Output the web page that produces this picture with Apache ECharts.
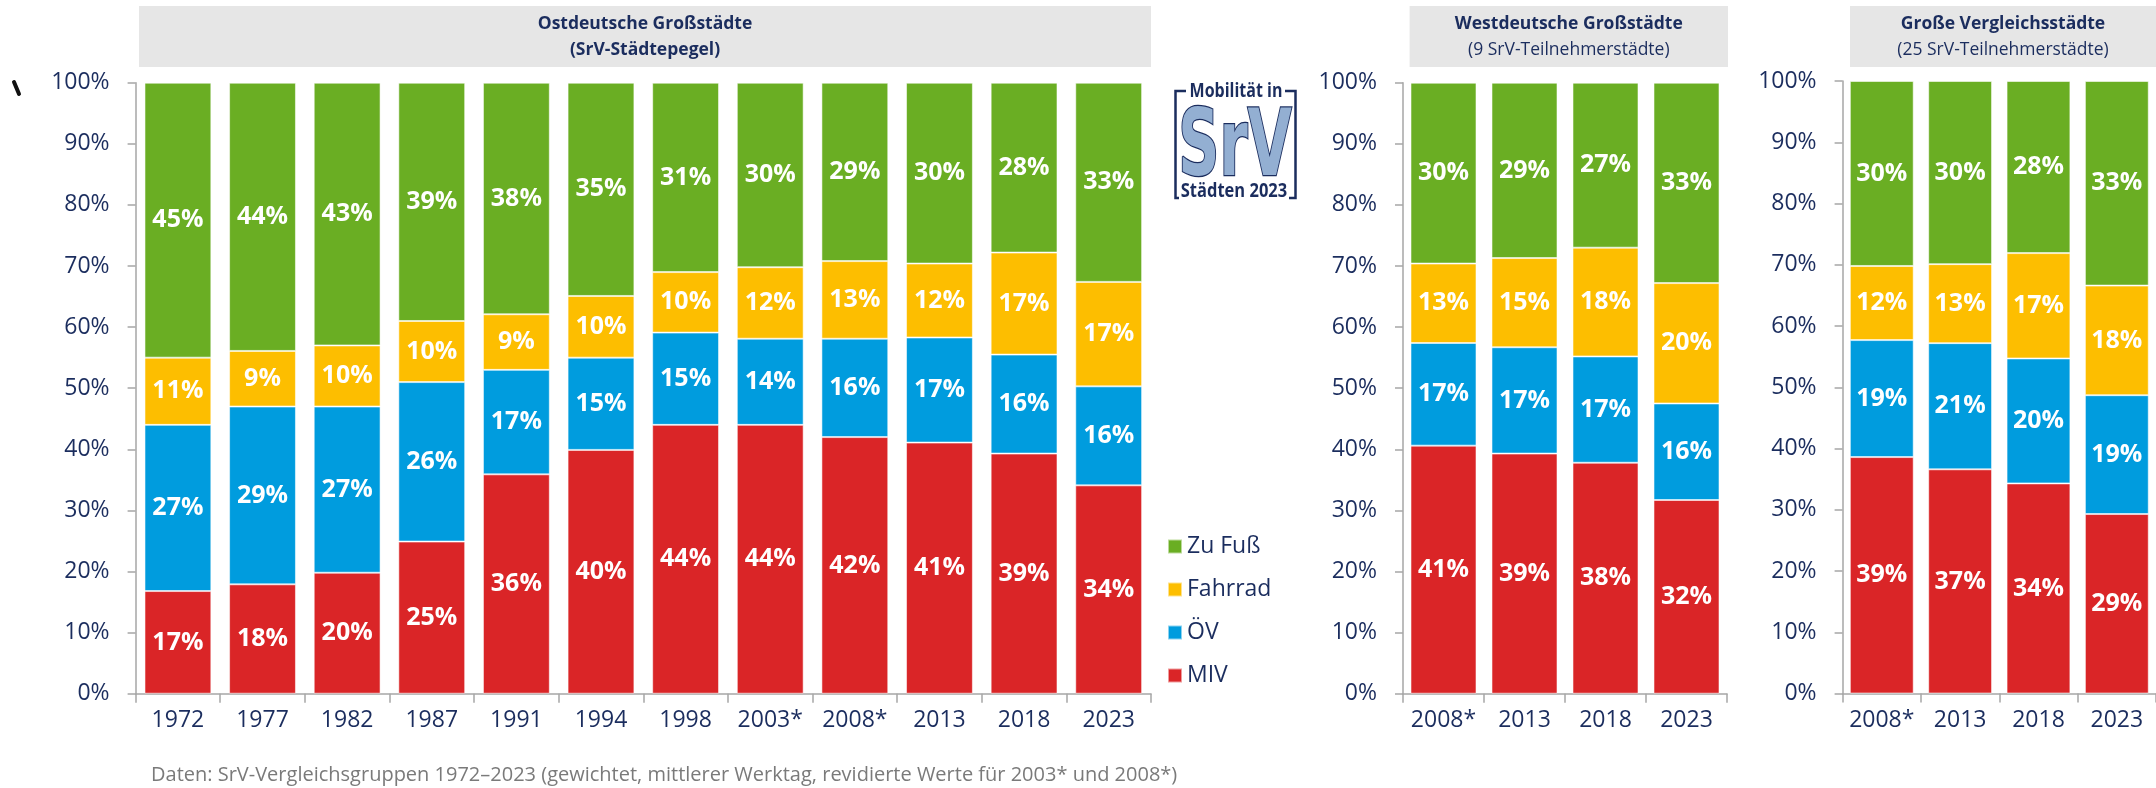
<!DOCTYPE html>
<html>
<head>
<meta charset="utf-8">
<script src="https://cdn.jsdelivr.net/npm/echarts@6/dist/echarts.min.js"></script>
<style>
  html, body { margin: 0; padding: 0; background: #fff; }
  #chart { width: 2156px; height: 788px; }
</style>
</head>
<body>
<div id="chart"></div>
<script>
// Ostdeutsche Großstädte (SrV-Städtepegel)
const ostJahre = ["1972", "1977", "1982", "1987", "1991", "1994", "1998", "2003*", "2008*", "2013", "2018", "2023"];
const ostMIV = [16.8, 17.9, 19.8, 24.9, 35.9, 39.9, 44.0, 44.0, 42.0, 41.1, 39.3, 34.1];
const ostOEV = [27.2, 29.1, 27.2, 26.1, 17.1, 15.1, 15.1, 14.1, 16.1, 17.2, 16.2, 16.2];
const ostRad = [11.0, 9.1, 10.0, 10.0, 9.1, 10.1, 9.9, 11.7, 12.7, 12.1, 16.7, 17.1];
const ostFuss = [45.0, 43.9, 43.0, 39.0, 37.9, 34.9, 31.0, 30.2, 29.2, 29.6, 27.8, 32.6];

// Westdeutsche Großstädte (9 SrV-Teilnehmerstädte)
const westJahre = ["2008*", "2013", "2018", "2023"];
const westMIV = [40.6, 39.3, 37.8, 31.7];
const westOEV = [16.8, 17.4, 17.4, 15.8];
const westRad = [13.0, 14.6, 17.8, 19.7];
const westFuss = [29.6, 28.7, 27.0, 32.8];

// Große Vergleichsstädte (25 SrV-Teilnehmerstädte)
const vglJahre = ["2008*", "2013", "2018", "2023"];
const vglMIV = [38.6, 36.6, 34.3, 29.3];
const vglOEV = [19.1, 20.6, 20.4, 19.4];
const vglRad = [12.1, 12.9, 17.2, 17.9];
const vglFuss = [30.2, 29.9, 28.1, 33.4];

const yTicks = [0, 10, 20, 30, 40, 50, 60, 70, 80, 90, 100];

const FONT = '"Open Sans", "DejaVu Sans", sans-serif';
const COND = '"DejaVu Sans Condensed", "DejaVu Sans", sans-serif';
const NAVY = "#1b2d5e";
const AXIS = "#a6a6a6";
const farben = { MIV: "#da2527", "ÖV": "#009cde", Fahrrad: "#fdbe00", "Zu Fuß": "#6aae23" };

const chart = echarts.init(document.getElementById("chart"));

// ein gestapelter Balkenblock je Panel
function stapel(idx, gap, miv, oev, rad, fuss) {
  const teile = [["MIV", miv], ["ÖV", oev], ["Fahrrad", rad], ["Zu Fuß", fuss]];
  return teile.map(([name, werte]) => ({
    name: name,
    type: "bar",
    stack: "p" + idx,
    xAxisIndex: idx,
    yAxisIndex: idx,
    barCategoryGap: gap,
    data: werte,
    itemStyle: {
      color: farben[name],
      borderColor: "rgba(255,255,255,0.55)",
      borderWidth: 1,
    },
    label: {
      show: true,
      position: "inside",
      color: "#fff",
      fontFamily: FONT,
      fontWeight: "bold",
      fontSize: 25,
      formatter: (p) => Math.round(p.value) + "%",
    },
  }));
}

function xAchse(idx, jahre) {
  return {
    type: "category",
    gridIndex: idx,
    data: jahre,
    axisLine: { lineStyle: { color: AXIS, width: 1.5 } },
    axisTick: { show: true, length: 9, lineStyle: { color: AXIS, width: 1.5 } },
    axisLabel: { interval: 0, color: NAVY, fontFamily: FONT, fontSize: 23, margin: 15 },
  };
}

function yAchse(idx) {
  return {
    type: "value",
    gridIndex: idx,
    min: 0,
    max: 100,
    interval: 10,
    splitLine: { show: false },
    axisLine: { show: true, lineStyle: { color: AXIS, width: 1.5 } },
    axisTick: { show: true, length: 8, lineStyle: { color: AXIS, width: 1.5 } },
    axisLabel: {
      color: NAVY,
      fontFamily: FONT,
      fontSize: 23,
      margin: 26,
      formatter: (v) => (yTicks.includes(v) ? v + "%" : ""),
    },
  };
}

function titelBox(x, w, zeile1, zeile2, fett2) {
  return [
    { type: "rect", shape: { x: x, y: 6, width: w, height: 61 }, style: { fill: "#e6e6e6" }, silent: true },
    {
      type: "text",
      style: { text: zeile1, x: x + w / 2, y: 24, align: "center", verticalAlign: "middle",
        font: "bold 17.5px " + FONT, fill: NAVY },
    },
    {
      type: "text",
      style: { text: zeile2, x: x + w / 2, y: 50, align: "center", verticalAlign: "middle",
        font: (fett2 ? "bold " : "") + "17.5px " + FONT, fill: NAVY },
    },
  ];
}

const option = {
  animation: false,
  backgroundColor: "#fff",
  textStyle: { fontFamily: FONT },
  grid: [
    { left: 135.6, top: 82.7, width: 1015.4, height: 611 },
    { left: 1403, top: 82.7, width: 324, height: 611 },
    { left: 1842.6, top: 81, width: 316, height: 612.5 },
  ],
  xAxis: [xAchse(0, ostJahre), xAchse(1, westJahre), xAchse(2, vglJahre)],
  yAxis: [yAchse(0), yAchse(1), yAchse(2)],
  legend: {
    orient: "vertical",
    left: 1167,
    top: 535,
    padding: 0,
    itemGap: 20,
    itemWidth: 14,
    itemHeight: 14,
    icon: "rect",
    data: ["Zu Fuß", "Fahrrad", "ÖV", "MIV"],
    textStyle: { color: NAVY, fontFamily: FONT, fontSize: 23, lineHeight: 23 },
  },
  series: [
    ...stapel(0, "21%", ostMIV, ostOEV, ostRad, ostFuss),
    ...stapel(1, "18.5%", westMIV, westOEV, westRad, westFuss),
    ...stapel(2, "18.5%", vglMIV, vglOEV, vglRad, vglFuss),
  ],
  graphic: [
    ...titelBox(139, 1012, "Ostdeutsche Großstädte", "(SrV-Städtepegel)", true),
    ...titelBox(1409.6, 318.4, "Westdeutsche Großstädte", "(9 SrV-Teilnehmerstädte)", false),
    ...titelBox(1850, 306, "Große Vergleichsstädte", "(25 SrV-Teilnehmerstädte)", false),
    // Logo "Mobilität in SrV Städten 2023"
    {
      type: "polyline",
      shape: { points: [[1186, 91], [1175.5, 91], [1175.5, 198], [1179, 198]] },
      style: { stroke: NAVY, lineWidth: 2.5, fill: null },
    },
    {
      type: "polyline",
      shape: { points: [[1285, 91], [1295.5, 91], [1295.5, 198], [1289, 198]] },
      style: { stroke: NAVY, lineWidth: 2.5, fill: null },
    },
    {
      type: "text",
      x: 1236,
      y: 92,
      scaleY: 1.2,
      style: { text: "Mobilität in", x: 0, y: 0, align: "center", verticalAlign: "middle",
        font: "bold 16px " + FONT, fill: NAVY },
    },
    {
      type: "text",
      x: 1235,
      y: 151,
      scaleX: 0.69,
      style: { text: "SrV", x: 0, y: 0, align: "center", verticalAlign: "middle",
        font: "bold 92px " + COND,
        fill: "#93afd2", stroke: NAVY, lineWidth: 2.5 },
    },
    {
      type: "text",
      x: 1234,
      y: 191,
      scaleY: 1.2,
      style: { text: "Städten 2023", x: 0, y: 0, align: "center", verticalAlign: "middle",
        font: "bold 16.5px " + FONT, fill: NAVY },
    },
    // kleine Marke am linken Rand
    {
      type: "line",
      shape: { x1: 14, y1: 82, x2: 19, y2: 94 },
      style: { stroke: "#111", lineWidth: 4, lineCap: "round" },
    },
    {
      type: "text",
      style: {
        text: "Daten: SrV-Vergleichsgruppen 1972–2023 (gewichtet, mittlerer Werktag, revidierte Werte für 2003* und 2008*)",
        x: 151, y: 775, align: "left", verticalAlign: "middle",
        font: "20px " + FONT, fill: "#7a7a7a",
      },
    },
  ],
};

chart.setOption(option);
window.addEventListener("resize", () => chart.resize());
</script>
</body>
</html>
